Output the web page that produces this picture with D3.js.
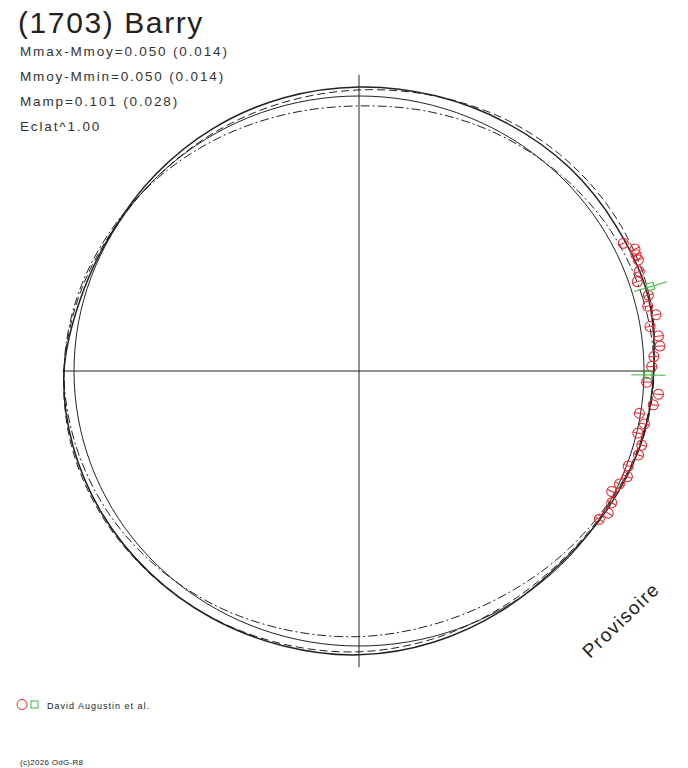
<!DOCTYPE html>
<html>
<head>
<meta charset="utf-8">
<script src="https://cdn.jsdelivr.net/npm/d3@7"></script>
<style>
  body { margin: 0; background: #fff; }
  text { font-family: "Liberation Sans", Arial, sans-serif; fill: #222; }
</style>
</head>
<body>
<div id="chart"></div>
<script>
const width = 688;
const height = 768;

// header texts
const titleText = "(1703) Barry";
const infoLines = ["Mmax-Mmoy=0.050 (0.014)", "Mmoy-Mmin=0.050 (0.014)", "Mamp=0.101 (0.028)", "Eclat^1.00"];
const legendText = "David Augustin et al.";
const copyText = "(c)2026 OdG-R8";
const stampText = "Provisoire";

// model curves, radius (mean circle = 1) every 15 degrees of phase angle
const curveAngles = [0, 15, 30, 45, 60, 75, 90, 105, 120, 135, 150, 165, 180, 195, 210, 225, 240, 255, 270, 285, 300, 315, 330, 345];
const fitRadius   = [1.034, 1.050, 1.045, 1.045, 1.040, 1.036, 1.033, 1.028, 1.020, 1.010, 1.003, 1.012, 1.035, 1.040, 1.040, 1.038, 1.036, 1.034, 1.032, 1.020, 1.005, 0.995, 1.006, 1.024];
const upperRadius = [1.035, 1.055, 1.060, 1.058, 1.050, 1.035, 1.022, 1.012, 1.005, 1.000, 1.005, 1.020, 1.035, 1.045, 1.045, 1.040, 1.035, 1.028, 1.021, 1.008, 0.995, 0.990, 1.001, 1.020];
const lowerRadius = [1.035, 1.030, 1.020, 1.005, 0.990, 0.975, 0.964, 0.968, 0.980, 0.995, 1.010, 1.025, 1.035, 1.030, 1.020, 1.005, 0.990, 0.975, 0.966, 0.958, 0.960, 0.975, 0.996, 1.025];

// observations (phase angle in degrees, radius)
const obsAngle  = [26.6, 24.6, 23.5, 22.4, 20.2, 18.4, 15.2, 13.1, 11.1, 9.0, 6.9, 4.9, 2.9, 0.9, -2.3, -4.6, -6.8, -8.9, -10.9, -13.0, -15.2, -17.3, -20.1, -22.2, -24.2, -26.3, -28.4, -30.6, -32.6];
const obsRadius = [1.037, 1.065, 1.060, 1.060, 1.048, 1.029, 1.052, 1.040, 1.062, 1.034, 1.058, 1.060, 1.036, 1.027, 1.010, 1.054, 1.040, 0.996, 1.020, 1.004, 1.028, 1.027, 1.006, 1.017, 1.002, 0.989, 1.008, 1.016, 1.001];
const refAngle  = [16.7, -0.8];
const refRadius = [1.068, 1.015];

const axisHalfX = 1.04;
const axisHalfY = 1.077;

const svg = d3.select("#chart")
  .append("svg")
  .attr("width", width)
  .attr("height", height);

const cx = 359, cy = 371;
const x = d3.scaleLinear().domain([-1, 1]).range([cx - 285, cx + 285]);
const y = d3.scaleLinear().domain([-1, 1]).range([cy + 275, cy - 275]);

const rad = a => a * Math.PI / 180;
const px = (a, r) => x(r * Math.cos(rad(a)));
const py = (a, r) => y(r * Math.sin(rad(a)));

// axes
svg.append("line")
  .attr("x1", x(-axisHalfX)).attr("x2", x(axisHalfX))
  .attr("y1", y(0)).attr("y2", y(0))
  .attr("stroke", "#222").attr("stroke-width", 1);
svg.append("line")
  .attr("x1", x(0)).attr("x2", x(0))
  .attr("y1", y(axisHalfY)).attr("y2", y(-axisHalfY))
  .attr("stroke", "#222").attr("stroke-width", 1);

// mean circle
const circleAngles = d3.range(0, 360, 5);
const closed = d3.line()
  .x(d => px(d[0], d[1]))
  .y(d => py(d[0], d[1]))
  .curve(d3.curveCatmullRomClosed);

svg.append("path")
  .attr("d", closed(circleAngles.map(a => [a, 1])))
  .attr("fill", "none").attr("stroke", "#222").attr("stroke-width", 1);

svg.append("path")
  .attr("d", closed(curveAngles.map((a, i) => [a, lowerRadius[i]])))
  .attr("fill", "none").attr("stroke", "#222").attr("stroke-width", 1)
  .attr("stroke-dasharray", "9,3,2,3");

svg.append("path")
  .attr("d", closed(curveAngles.map((a, i) => [a, upperRadius[i]])))
  .attr("fill", "none").attr("stroke", "#222").attr("stroke-width", 1)
  .attr("stroke-dasharray", "8,4");

svg.append("path")
  .attr("d", closed(curveAngles.map((a, i) => [a, fitRadius[i]])))
  .attr("fill", "none").attr("stroke", "#222").attr("stroke-width", 1.5);

// observations
const obs = obsAngle.map((a, i) => ({a: a, r: obsRadius[i]}));
const gObs = svg.append("g")
  .selectAll("g")
  .data(obs)
  .join("g")
  .attr("transform", d => `translate(${px(d.a, d.r)},${py(d.a, d.r)}) rotate(${-d.a})`);
gObs.append("circle")
  .attr("r", 5)
  .attr("fill", "none").attr("stroke", "#e8242b").attr("stroke-width", 1);
gObs.append("line")
  .attr("x1", -5).attr("x2", 5).attr("y1", 0).attr("y2", 0)
  .attr("stroke", "#e8242b").attr("stroke-width", 1);

const refs = refAngle.map((a, i) => ({a: a, r: refRadius[i]}));
const gRef = svg.append("g")
  .selectAll("g")
  .data(refs)
  .join("g")
  .attr("transform", d => `translate(${px(d.a, d.r)},${py(d.a, d.r)}) rotate(${-d.a})`);
gRef.append("rect")
  .attr("x", -3.5).attr("y", -3.5).attr("width", 7).attr("height", 7)
  .attr("fill", "none").attr("stroke", "#3cb93c").attr("stroke-width", 1);
gRef.append("line")
  .attr("x1", -17).attr("x2", 17).attr("y1", 0).attr("y2", 0)
  .attr("stroke", "#3cb93c").attr("stroke-width", 1);

// texts
svg.append("text")
  .attr("x", 18).attr("y", 33)
  .style("font-size", "30px")
  .style("letter-spacing", "1.6px")
  .text(titleText);

svg.selectAll(".info")
  .data(infoLines)
  .join("text")
  .attr("class", "info")
  .attr("x", 20).attr("y", (d, i) => 56 + i * 25)
  .style("font-size", "13.5px")
  .style("letter-spacing", "1.85px")
  .style("fill", "#333")
  .text(d => d);

svg.append("text")
  .attr("transform", "translate(590,659) rotate(-44)")
  .style("font-size", "19px")
  .style("letter-spacing", "1.4px")
  .text(stampText);

// legend
svg.append("circle")
  .attr("cx", 22).attr("cy", 704.5).attr("r", 5)
  .attr("fill", "none").attr("stroke", "#e8242b");
svg.append("rect")
  .attr("x", 31).attr("y", 701).attr("width", 7).attr("height", 7)
  .attr("fill", "none").attr("stroke", "#3cb93c");
svg.append("text")
  .attr("x", 47).attr("y", 709)
  .style("font-size", "9px")
  .style("letter-spacing", "1px")
  .text(legendText);

svg.append("text")
  .attr("x", 20).attr("y", 765)
  .style("font-size", "8px")
  .style("letter-spacing", "0.3px")
  .text(copyText);
</script>
</body>
</html>
